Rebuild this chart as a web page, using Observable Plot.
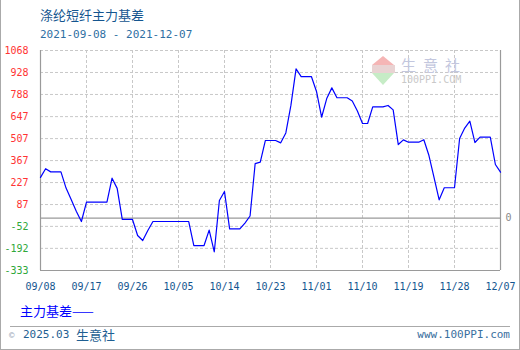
<!DOCTYPE html>
<html>
<head>
<meta charset="utf-8">
<script src="https://cdn.jsdelivr.net/npm/d3@7"></script>
<script src="https://cdn.jsdelivr.net/npm/@observablehq/plot@0.6"></script>
<style>
  html, body { margin: 0; padding: 0; background: #fff; }
  #wrap { position: relative; width: 520px; height: 350px; overflow: hidden; background: #fff; }
  #wrap > * { position: absolute; }
  .cjk { font-family: "Noto Sans CJK SC", sans-serif; }
  .mono { font-family: "DejaVu Sans Mono", monospace; }
</style>
</head>
<body>
<div id="wrap">
  <div id="plot" style="left:0;top:0;"></div>
  <div class="cjk" style="left:40px;top:7px;font-size:13px;line-height:16px;color:#14558f;">涤纶短纤主力基差</div>
  <div class="mono" style="left:40px;top:28px;font-size:11px;line-height:14px;color:#2f6fa3;">2021-09-08 - 2021-12-07</div>
  <!-- watermark -->
  <div style="left:372px;top:56px;width:0;height:0;border-left:11.5px solid transparent;border-right:11.5px solid transparent;border-bottom:9px solid #f5b5b5;"></div>
  <div style="left:372px;top:65px;width:23px;height:8px;background:#e9d3d3;"></div>
  <div style="left:372px;top:73px;width:0;height:0;border-left:11.5px solid transparent;border-right:11.5px solid transparent;border-top:12px solid #c6ecc6;"></div>
  <div class="cjk" style="left:401px;top:56px;font-size:15px;line-height:18px;letter-spacing:7px;color:#c3c7de;">生意社</div>
  <div class="mono" style="left:401px;top:74px;font-size:10px;line-height:12px;color:#c9c9c9;">100PPI.COM</div>
  <!-- legend -->
  <div class="cjk" style="left:20px;top:303px;font-size:13px;line-height:16px;color:#0000ff;">主力基差——</div>
  <!-- footer -->
  <div style="left:10px;top:326px;width:500px;height:0;border-top:1px solid #aaa;"></div>
  <div style="left:9px;top:329px;font-size:9px;line-height:12px;color:#9aa8b8;" class="mono">©</div>
  <div class="mono" style="left:23px;top:328px;font-size:11px;line-height:14px;color:#1f5f92;">2025.03</div>
  <div class="cjk" style="left:76px;top:327px;font-size:13px;line-height:16px;color:#1f5f92;">生意社</div>
  <div class="mono" style="right:10px;top:328px;font-size:11px;line-height:14px;color:#3a6f9e;">www.100PPI.com</div>
  <div style="left:0;top:0;width:520px;height:350px;box-sizing:border-box;border-left:1px solid #aaa;border-right:1px solid #aaa;border-bottom:1px solid #aaa;"></div>
</div>
<script>
// ---- data ----
const dates = [
  "2021-09-08","2021-09-09","2021-09-10","2021-09-12","2021-09-13","2021-09-14","2021-09-15","2021-09-16",
  "2021-09-17","2021-09-21","2021-09-22","2021-09-23","2021-09-24","2021-09-26","2021-09-27","2021-09-28",
  "2021-09-29","2021-09-30","2021-10-07","2021-10-08","2021-10-10","2021-10-11","2021-10-12","2021-10-13",
  "2021-10-14","2021-10-15","2021-10-17","2021-10-18","2021-10-19","2021-10-20","2021-10-21","2021-10-22",
  "2021-10-24","2021-10-25","2021-10-26","2021-10-27","2021-10-28","2021-10-29","2021-10-31","2021-11-01",
  "2021-11-02","2021-11-03","2021-11-04","2021-11-05","2021-11-07","2021-11-08","2021-11-09","2021-11-10",
  "2021-11-11","2021-11-12","2021-11-14","2021-11-15","2021-11-16","2021-11-17","2021-11-18","2021-11-19",
  "2021-11-21","2021-11-22","2021-11-23","2021-11-24","2021-11-25","2021-11-26","2021-11-28","2021-11-29",
  "2021-11-30","2021-12-01","2021-12-02","2021-12-03","2021-12-05","2021-12-06","2021-12-07"
];
const values = [
  260, 315, 295, 295, 192, 119, 45, -21,
  102, 102, 255, 190, -8, -8, -110, -142,
  -78, -21, -21, -174, -174, -76, -214, 113,
  170, -68, -68, -31, 14, 348, 357, 495,
  495, 480, 543, 720, 951, 902, 902, 807,
  643, 762, 830, 767, 767, 746, 683, 603,
  603, 709, 709, 718, 690, 469, 499, 484,
  484, 500, 399, 259, 117, 194, 194, 508,
  574, 618, 482, 516, 516, 342, 293
];
const xTickLabels = ["2021-09-08","2021-09-17","2021-09-26","2021-10-05","2021-10-14","2021-10-23",
  "2021-11-01","2021-11-10","2021-11-19","2021-11-28","2021-12-07"];
const yTicksPositive = [1068, 928, 788, 647, 507, 367, 227, 87];
const yTicksNegative = [-52, -192, -333];
const seriesName = "主力基差";

// ---- build ----
const data = dates.map((d, i) => ({date: new Date(d), value: values[i]}));
const xTicks = xTickLabels.map(d => new Date(d));
const xDomain = [xTicks[0], xTicks[xTicks.length - 1]];
const yTicksAll = yTicksPositive.concat(yTicksNegative);
const yDomain = [yTicksNegative[yTicksNegative.length - 1], yTicksPositive[0]];
const fmtX = d3.utcFormat("%m/%d");
const mono = "DejaVu Sans Mono";

const chart = Plot.plot({
  width: 520,
  height: 300,
  marginTop: 50,
  marginBottom: 30,
  marginLeft: 40,
  marginRight: 20,
  style: {fontFamily: mono, fontSize: "10px", background: "transparent", overflow: "visible"},
  x: {type: "utc", domain: xDomain},
  y: {domain: yDomain},
  marks: [
    Plot.gridY(yTicksAll, {stroke: "#c8c8c8", strokeOpacity: 1, strokeDasharray: "3,2"}),
    Plot.gridX(xTicks, {stroke: "#c8c8c8", strokeOpacity: 1, strokeDasharray: "3,2"}),
    Plot.ruleY([0], {stroke: "#9a9a9a", strokeWidth: 1.2}),
    Plot.ruleY([yDomain[0]], {stroke: "#9a9a9a", strokeWidth: 1.2}),
    Plot.ruleX(xDomain, {stroke: "#9a9a9a", strokeWidth: 1.2}),
    Plot.lineY(data, {x: "date", y: "value", stroke: "#0000ff", strokeWidth: 1.2, curve: "linear"}),
    Plot.axisY(yTicksPositive, {tickSize: 0, tickPadding: 12, fill: "#ff3333", fontSize: 10, tickFormat: d => String(d), label: null}),
    Plot.axisY(yTicksNegative, {tickSize: 0, tickPadding: 12, fill: "#2fa83a", fontSize: 10, tickFormat: d => String(d), label: null}),
    Plot.axisY([0], {anchor: "right", tickSize: 0, tickPadding: 5, fill: "#888", fontSize: 10, tickFormat: d => String(d), label: null}),
    Plot.axisX(xTicks, {tickSize: 0, tickPadding: 12, fill: "#14558f", fontSize: 10, tickFormat: fmtX, label: null})
  ]
});
document.getElementById("plot").appendChild(chart);
</script>
</body>
</html>
